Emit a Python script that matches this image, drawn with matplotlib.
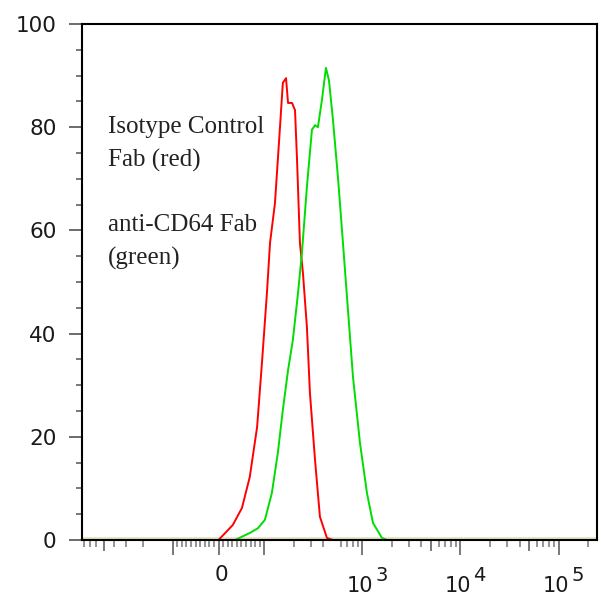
import matplotlib
matplotlib.use("Agg")
import matplotlib.pyplot as plt
from matplotlib.ticker import FixedLocator, MultipleLocator, NullFormatter

# histogram traces: fluorescence intensity vs % of max
red_x = [0, 31, 51, 68, 84, 95, 106, 114, 128, 144, 154, 166, 174, 191,
         205, 215, 230, 247, 271, 291, 328, 368, 434, 500]
red_y = [0, 2.9, 6.2, 12.2, 21.9, 34.9, 47.9, 57.6, 65.3, 80.0, 88.6, 89.5,
         84.7, 84.7, 83.3, 73.6, 57.6, 51.7, 41.3, 28.5, 15.5, 4.5, 0.4, 0]

green_x = [36, 69, 86, 101, 119, 137, 154, 174, 195, 220, 241, 271, 305, 328,
           351, 386, 424, 455, 500, 562, 632, 711, 800, 943, 1111, 1280, 1581, 1778]
green_y = [0, 1.4, 2.3, 3.9, 9.1, 16.9, 25.2, 32.9, 38.8, 47.9, 55.6, 68.4,
           79.5, 80.4, 80.0, 85.3, 91.5, 89.1, 81.4, 70.3, 57.6, 44.6, 31.6,
           18.8, 9.1, 3.3, 0.4, 0]

x_range = (-839, 247000)
major_x = [-100, 0, 100, 1000, 10000, 100000]
medium_x = [-500, 5000, 50000]
minor_x = ([-v for v in (900, 800, 700, 600, 400, 300, 200)]
           + [-v for v in range(10, 100, 10)] + list(range(10, 100, 10))
           + [200, 300, 400, 600, 700, 800, 900]
           + [2000, 3000, 4000, 6000, 7000, 8000, 9000]
           + [20000, 30000, 40000, 60000, 70000, 80000, 90000, 200000])
decade_labels = {1000: "3", 10000: "4", 100000: "5"}

legend_text = "Isotype Control\nFab (red)\n\nanti-CD64 Fab\n(green)"

W, H = 601, 597
fig = plt.figure(figsize=(W / 100, H / 100), dpi=100)
ax = fig.add_axes([82 / W, (H - 540) / H, 515 / W, 516 / H])

ax.axhline(0, color="#e2deba", lw=4, zorder=1)
ax.plot(red_x, red_y, color="#ff0000", lw=1.4, zorder=3)
ax.plot(green_x, green_y, color="#00dd00", lw=1.4, zorder=3)

ax.set_xscale("symlog", linthresh=100, linscale=0.422)
ax.set_xlim(*x_range)
ax.set_ylim(0, 100)

for s in ax.spines.values():
    s.set_linewidth(1.5)
    s.set_color("black")
    s.set_zorder(5)

# y axis
ax.yaxis.set_major_locator(MultipleLocator(20))
ax.yaxis.set_minor_locator(MultipleLocator(5))
ax.tick_params(axis="y", which="major", direction="out", length=9.4, width=1.1,
               color="#444444", pad=9, labelsize=15.5, labelcolor="#1a1a1a")
ax.tick_params(axis="y", which="minor", direction="out", length=4.3, width=1.1,
               color="#555555")

# x axis: long / medium / short ticks
ax.xaxis.set_major_locator(FixedLocator(major_x + medium_x))
ax.xaxis.set_minor_locator(FixedLocator(minor_x))
ax.xaxis.set_major_formatter(NullFormatter())
ax.xaxis.set_minor_formatter(NullFormatter())
ax.tick_params(axis="x", which="major", direction="out", length=10.8, width=1.1,
               color="#555555")
ax.tick_params(axis="x", which="minor", direction="out", length=5.0, width=1.1,
               color="#777777")
for tick, loc in zip(ax.xaxis.get_major_ticks(), ax.get_xticks()):
    if loc in medium_x:
        tick.tick1line.set_markersize(7.9)

xtrans = ax.get_xaxis_transform()
ax.annotate("0", xy=(0, 0), xycoords=xtrans, xytext=(3, -25),
            textcoords="offset pixels", ha="center", va="top",
            fontsize=15.5, color="#1a1a1a")
for val, exp in decade_labels.items():
    ax.annotate("10", xy=(val, 0), xycoords=xtrans, xytext=(11, -36),
                textcoords="offset pixels", ha="right", va="top",
                fontsize=15, color="#1a1a1a")
    ax.annotate(exp, xy=(val, 0), xycoords=xtrans, xytext=(13, -26),
                textcoords="offset pixels", ha="left", va="top",
                fontsize=14, color="#1a1a1a")

ax.text(0.0505, 0.822, legend_text, transform=ax.transAxes, ha="left",
        va="top", fontsize=18, family="Liberation Serif", color="#222222",
        linespacing=1.6)

fig.savefig("out.png", dpi=100)
